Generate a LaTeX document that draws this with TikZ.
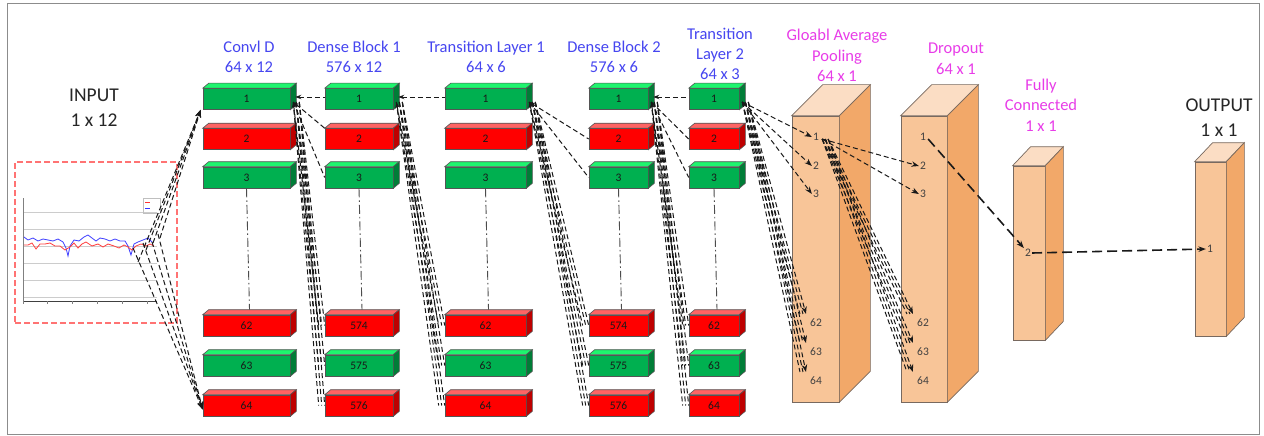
\documentclass[tikz,border=0pt]{standalone}
\usepackage{fontspec}
\setmainfont{Carlito}
\usetikzlibrary{arrows.meta}
\definecolor{gF}{RGB}{0,176,80}
\definecolor{gT}{RGB}{30,245,110}
\definecolor{gR}{RGB}{0,125,55}
\definecolor{rF}{RGB}{255,0,0}
\definecolor{rT}{RGB}{255,100,100}
\definecolor{rR}{RGB}{190,0,0}
\definecolor{oF}{RGB}{248,197,152}
\definecolor{oT}{RGB}{251,221,196}
\definecolor{oR}{RGB}{242,168,105}
\definecolor{edge}{RGB}{85,85,85}
\definecolor{edgeO}{RGB}{120,105,95}
\definecolor{ttlblue}{RGB}{70,70,240}
\definecolor{ttlmag}{RGB}{232,60,232}
\tikzset{
 blkface/.style={draw=edge, line width=0.6pt, inner sep=0pt, minimum height=21pt, font=\fontsize{11.5}{12}\selectfont, text=black!90},
 oface/.style={draw=edgeO, line width=0.7pt, fill=oF, inner sep=0pt},
 olab/.style={inner sep=1pt, font=\fontsize{11.5}{12}\selectfont, text=black!75},
 ttlB/.style={align=center, text=ttlblue, font=\fontsize{16.5}{20}\selectfont, inner sep=0pt},
 ttlM/.style={align=center, text=ttlmag, font=\fontsize{16.5}{20.5}\selectfont, inner sep=0pt},
 ttlK/.style={align=center, text=black!85, font=\fontsize{19.5}{25}\selectfont, inner sep=0pt},
 dl/.style={draw=black!90, line width=1pt, dash pattern=on 5pt off 3pt},
 ldl/.style={draw=black!90, line width=1.6pt, dash pattern=on 10pt off 5pt},
 dd/.style={draw=black!70, line width=0.9pt, dash pattern=on 9pt off 3pt on 1.5pt off 3pt},
 arr/.style={-{Stealth[length=7.5pt,width=5.5pt]}},
 arrS/.style={{Stealth[length=6pt,width=4.5pt]}-},
}
\newcommand\blk[6]{%
 \node[blkface, fill=#5F, minimum width={#4*1pt}] (#1) at (#2,#3) {#6};
 \filldraw[draw=edge, line width=0.6pt, fill=#5T] (#1.north west) -- ++(6,-5) -- ([shift={(6,-5)}]#1.north east) -- (#1.north east) -- cycle;
 \filldraw[draw=edge, line width=0.6pt, fill=#5R] (#1.north east) -- ++(6,-5) -- ([shift={(6,-5)}]#1.south east) -- (#1.south east) -- cycle;
}
\newcommand\obox[7]{%
 \node[oface, minimum width={#4*1pt}, minimum height={#5*1pt}] (#1) at (#2,#3) {};
 \filldraw[draw=edgeO, line width=0.7pt, fill=oT] (#1.north west) -- ++(#6,-#7) -- ([shift={(#6,-#7)}]#1.north east) -- (#1.north east) -- cycle;
 \filldraw[draw=edgeO, line width=0.7pt, fill=oR] (#1.north east) -- ++(#6,-#7) -- ([shift={(#6,-#7)}]#1.south east) -- (#1.south east) -- cycle;
}
\newcommand\bndl[4]{%
 \draw[dl,#1] (#3) -- ([xshift=-6]#4);
 \draw[dl] ([xshift=3]#3) -- ([xshift=-3]#4);
 \draw[dl,#2] ([xshift=6]#3) -- (#4);
}
\begin{document}
\begin{tikzpicture}[x=1pt,y=-1pt]
\useasboundingbox (0,0) rectangle (1264,436);
\fill[white] (0,0) rectangle (1264,436);
\draw[black!45, line width=1pt] (7.5,3.5) rectangle (1259.5,434.5);

% titles
\node[ttlK] (tI) at (94,107.5) {INPUT\\1 x 12};
\node[ttlB] (tA) at (249,57) {Convl D\\64 x 12};
\node[ttlB] (tB) at (354,57) {Dense Block 1\\576 x 12};
\node[ttlB] (tC) at (486,57) {Transition Layer 1\\64 x 6};
\node[ttlB] (tD) at (614,57) {Dense Block 2\\576 x 6};
\node[ttlB] (tE) at (720,54) {Transition\\Layer 2\\64 x 3};
\node[ttlM] (tG) at (837,55.5) {Gloabl Average\\Pooling\\64 x 1};
\node[ttlM] (tP) at (956,59) {Dropout\\64 x 1};
\node[ttlM] (tF) at (1041,105) {Fully\\Connected\\1 x 1};
\node[ttlK] (tO) at (1219,117.5) {OUTPUT\\1 x 1};

% input chart
\node[draw=red!55, dash pattern=on 6pt off 3pt, line width=1.3pt, minimum width=162pt, minimum height=161pt, inner sep=0pt] (inp) at (96,242.5) {};
\foreach \yy in {212,229,246,263,280,297} \draw[black!20, line width=0.4pt] (23,\yy) -- (157,\yy);
\draw[black!50, line width=0.5pt] (23,198) -- (23,301);
\draw[black!75, line width=0.9pt] (23,301) -- (157,301);
\foreach \xx in {23,47,72,97,122,147} \draw[black!50, line width=0.4pt] (\xx,301) -- (\xx,304);
\draw[black!25, line width=0.4pt] (143,198) rectangle (160,213);
\draw[red!80, line width=0.7pt] (145,202) -- (150,202);
\draw[blue!80, line width=0.7pt] (145,208) -- (150,208);
\draw[blue!75, line width=0.8pt] plot coordinates {(24,237) (28,240) (33,238) (38,241) (43,239) (48,240) (53,241) (58,239) (63,242) (66,248) (68,256) (70,246) (74,240) (79,241) (84,237) (88,235) (92,238) (96,241) (100,238) (105,239) (110,241) (115,239) (120,241) (125,241) (128,246) (131,255) (134,244) (138,242) (143,240) (148,238) (152,242)};
\draw[red!75, line width=0.8pt] plot coordinates {(24,245) (28,245) (32,243) (36,249) (40,244) (45,244) (50,243) (55,246) (60,246) (65,250) (70,247) (74,243) (78,248) (82,244) (86,242) (92,246) (98,244) (103,247) (108,244) (114,246) (119,248) (124,245) (128,247) (132,250) (136,246) (141,244) (146,246) (150,244) (154,246)};

% blocks
\foreach \c/\x/\w/\la/\lb/\lc in {A/246.5/87/62/63/64, B/359/68/574/575/576, C/485.5/81/62/63/64, D/618.5/59/574/575/576, E/714/50/62/63/64}{
 \blk{\c1}{\x}{99}{\w}{g}{1}
 \blk{\c2}{\x}{139}{\w}{r}{2}
 \blk{\c3}{\x}{177.5}{\w}{g}{3}
 \blk{\c62}{\x}{325.5}{\w}{r}{\la}
 \blk{\c63}{\x}{365.5}{\w}{g}{\lb}
 \blk{\c64}{\x}{405.5}{\w}{r}{\lc}
 \draw[dd] (\c3.south) -- ([shift={(3,-5)}]\c62.north);
}

% orange columns
\obox{G}{815.5}{259}{47}{286}{31}{31}
\obox{P}{924}{259}{46}{286}{31}{31}
\obox{F}{1029}{253}{32}{174}{18}{19}
\obox{O}{1210.5}{249}{31}{174}{18}{19}
\foreach \n/\yy in {1/137,2/166,3/194,62/323,63/352,64/381}{
 \node[olab] (g\n) at (816,\yy) {\n};
 \node[olab] (p\n) at (923,\yy) {\n};
}
\node[olab] (f2) at (1028,253) {2};
\node[olab] (o1) at (1210,249) {1};

% input -> conv
\coordinate (u1) at (138,262); \coordinate (u2) at (146,250);
\coordinate (u3) at (153,243); \coordinate (u4) at (160,238);
\coordinate (v1) at (133,248); \coordinate (v2) at (143,243);
\coordinate (v3) at (152,242); \coordinate (v4) at (158,234);
\foreach \i in {1,...,4}{
 \draw[dl,arr] (u\i) -- ([shift={(-2,0)}]A1.south west);
 \draw[dl,arr] (v\i) -- ([shift={(0,4)}]A64.west);
}

% conv -> dense block 1
\coordinate (oA) at ([shift={(3,3)}]A1.east);
\draw[dl,arrS] ([shift={(5,-2)}]A1.east) -- ([shift={(0,-2)}]B1.west);
\draw[dl,arrS] (oA) -- (B2.north west);
\draw[dl] (oA) -- (B3.west);
\bndl{arrS}{}{oA}{B62.west}
\bndl{}{}{oA}{B63.west}
\bndl{}{}{oA}{B64.west}

% dense block 1 -> transition 1
\coordinate (oB) at ([shift={(3,3)}]B1.east);
\draw[dl,arrS] ([shift={(5,-2)}]B1.east) -- ([shift={(0,-2)}]C1.west);
\bndl{arrS}{}{oB}{C62.west}
\bndl{}{}{oB}{C63.west}
\bndl{}{}{oB}{C64.west}

% transition 1 -> dense block 2
\coordinate (oC) at ([shift={(3,3)}]C1.east);
\draw[dl,arrS] (oC) -- (D2.west);
\draw[dl] (oC) -- (D3.west);
\bndl{arrS}{}{oC}{D62.west}
\bndl{}{}{oC}{D63.west}
\bndl{}{}{oC}{D64.west}

% dense block 2 -> transition 2
\coordinate (oD) at ([shift={(3,3)}]D1.east);
\draw[dl,arrS] ([shift={(5,-2)}]D1.east) -- ([shift={(0,-2)}]E1.west);
\draw[dl] (oD) -- (E2.west);
\draw[dl] (oD) -- (E3.west);
\bndl{arrS}{}{oD}{E62.west}
\bndl{}{}{oD}{E63.west}
\bndl{}{}{oD}{E64.west}

% transition 2 -> GAP
\coordinate (oE) at ([shift={(3,3)}]E1.east);
\draw[dl,arrS,arr] (oE) -- (g1.west);
\draw[dl,arr] (oE) -- (g2.west);
\draw[dl,arr] (oE) -- (g3.west);
\foreach \n in {62,63,64}{\coordinate (tg\n) at ([shift={(-3,-9)}]g\n.west);}
\bndl{}{arr}{oE}{tg62}
\bndl{}{arr}{oE}{tg63}
\bndl{}{arr}{oE}{tg64}

% GAP -> dropout
\coordinate (oG) at ([shift={(2,2)}]g1.east);
\draw[dl,arr] (oG) -- (p2.west);
\draw[dl,arr] (oG) -- (p3.west);
\foreach \n in {62,63,64}{\coordinate (tp\n) at ([shift={(-3,-9)}]p\n.west);}
\bndl{}{arr}{oG}{tp62}
\bndl{}{arr}{oG}{tp63}
\bndl{}{arr}{oG}{tp64}

% dropout -> FC -> output
\draw[ldl,arr] ([shift={(1,2)}]p1.east) -- (f2.north west);
\draw[ldl,arr] (f2.east) -- (o1.west);
\end{tikzpicture}
\end{document}
